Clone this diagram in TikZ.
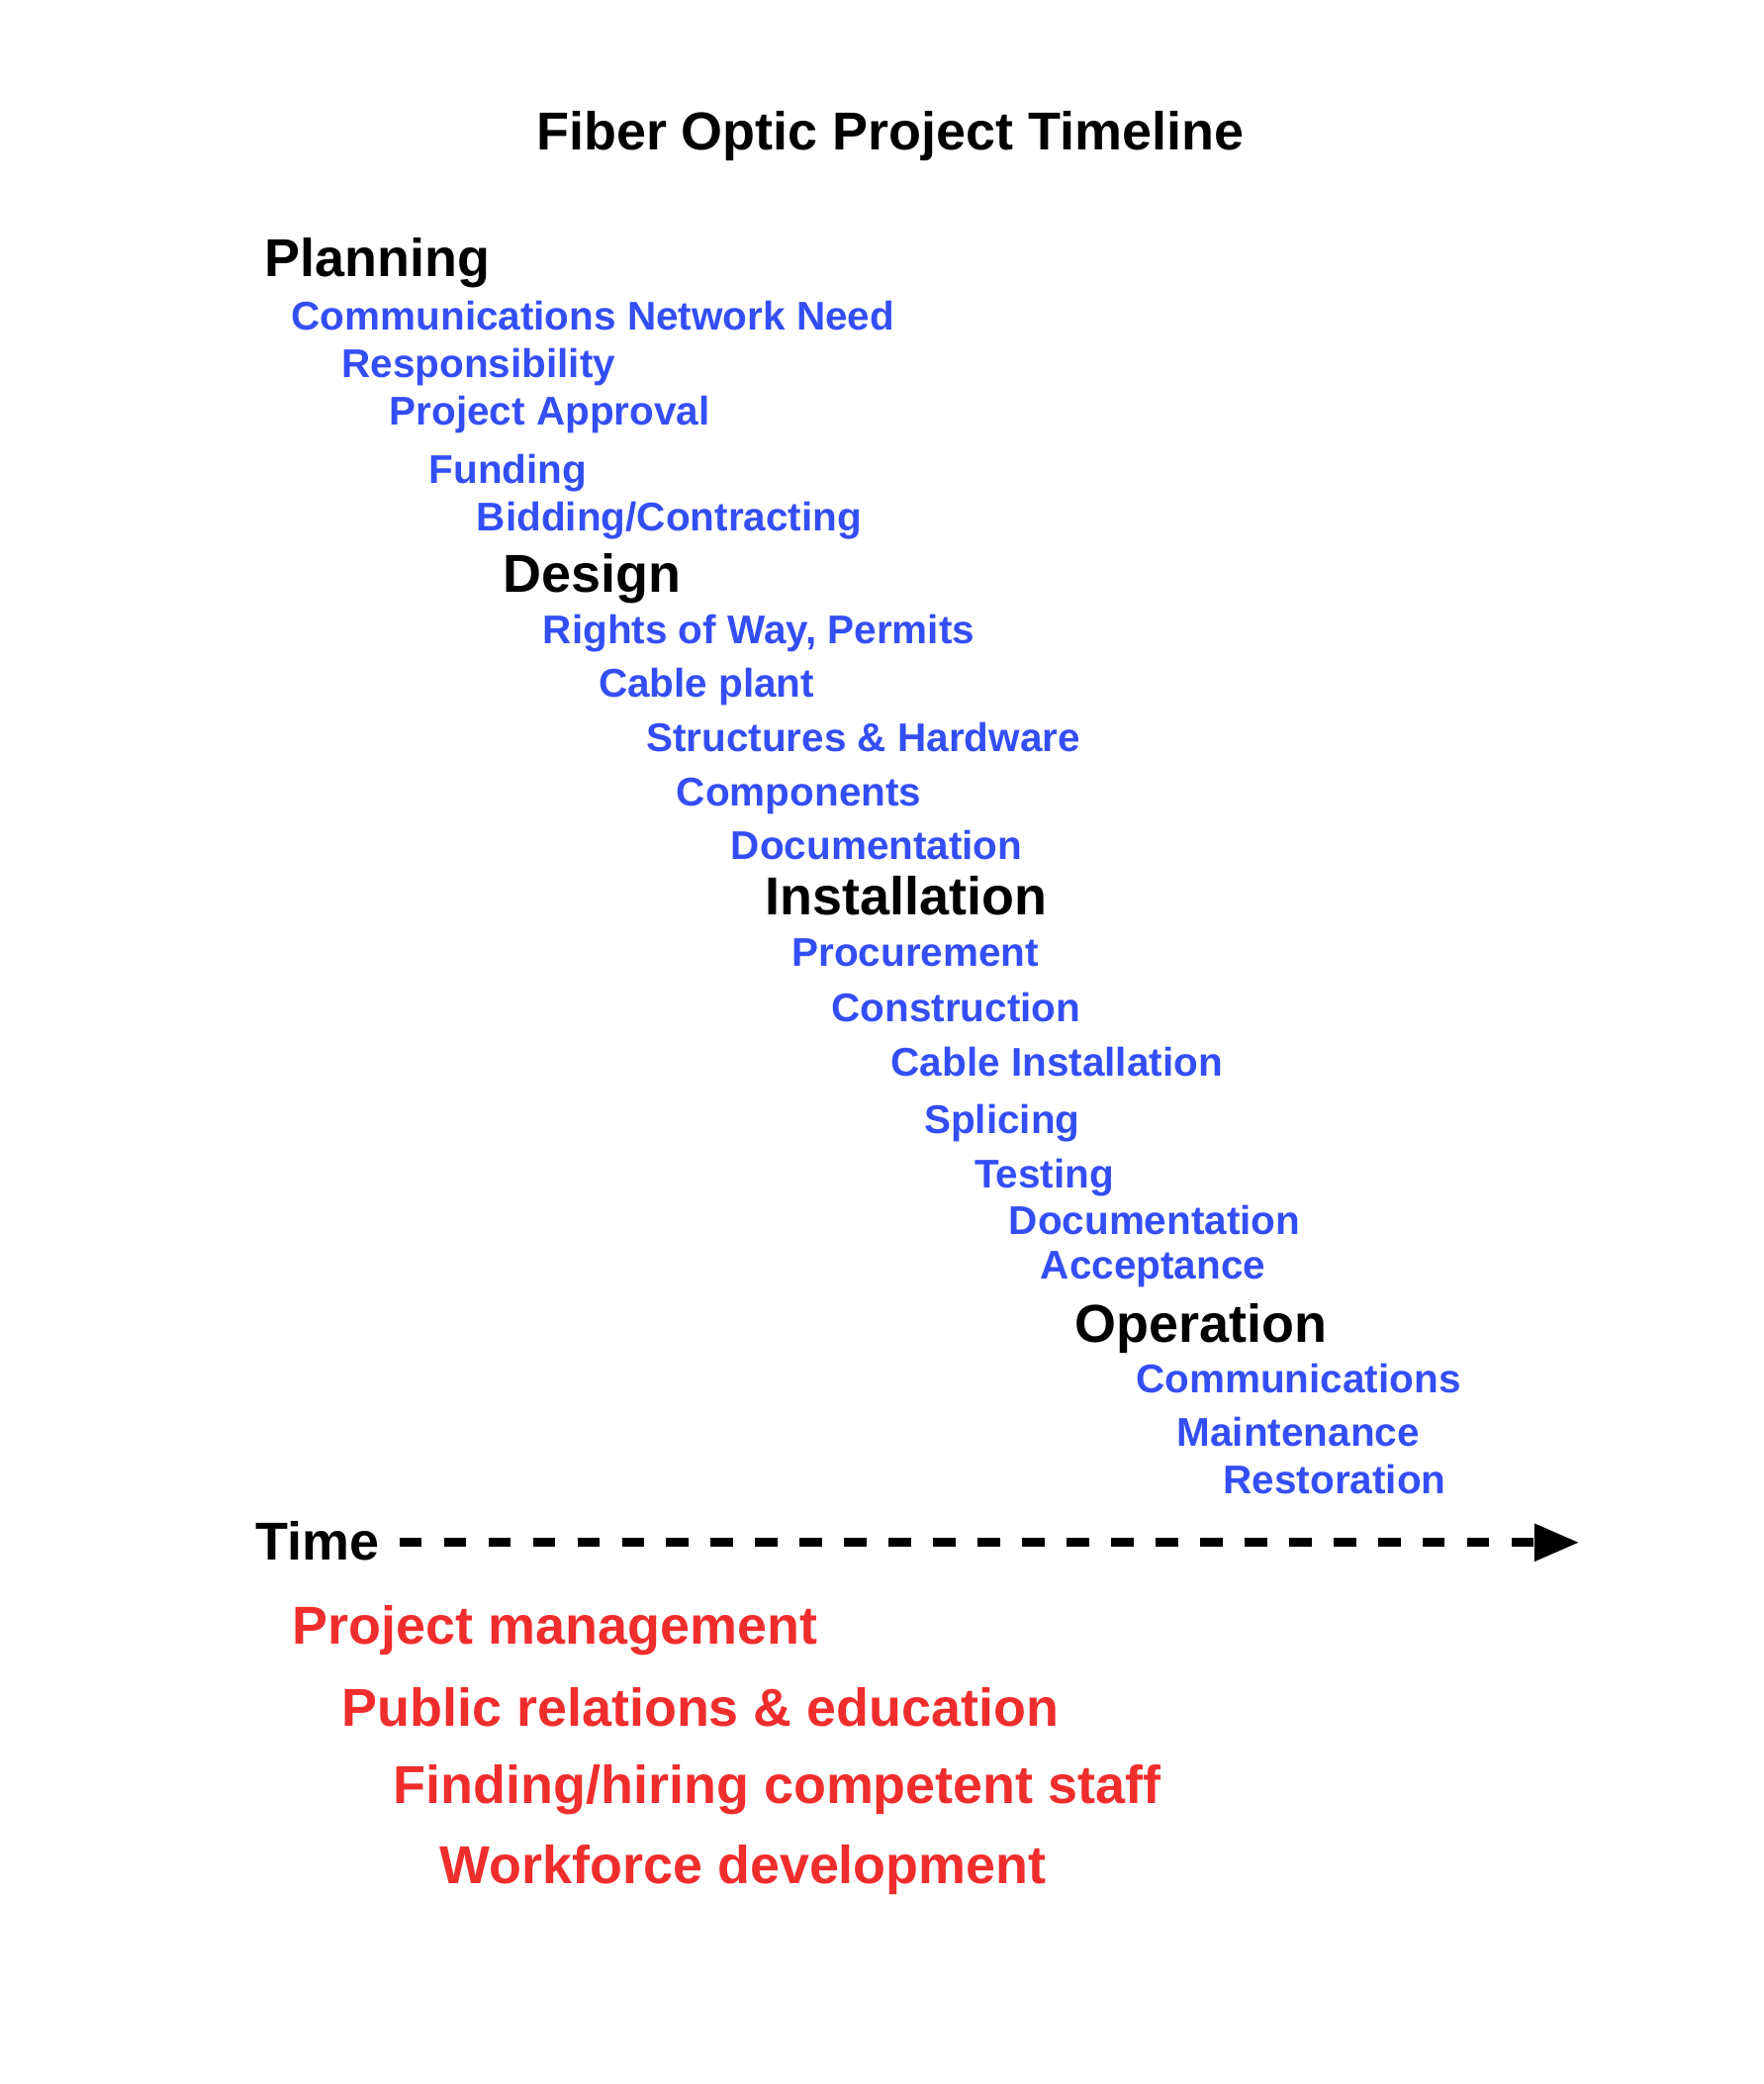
\documentclass[tikz,border=0pt]{standalone}
\usepackage{fontspec}
\setmainfont{Liberation Sans}
\usepackage{xcolor}
\usepackage{tikz}
\usetikzlibrary{positioning, arrows.meta}
\definecolor{taskblue}{RGB}{52,78,245}
\definecolor{issuered}{RGB}{240,45,45}
\newcommand{\largebf}{\fontsize{40.3bp}{48bp}\selectfont\bfseries}
\newcommand{\taskbf}{\fontsize{30.25bp}{36bp}\selectfont\bfseries}

\begin{document}
\begin{tikzpicture}[x=1bp, y=-1bp, every node/.style={inner sep=0pt, anchor=base west},
  heading/.style={font=\largebf, text=black},
  phase/.style={font=\largebf, text=black},
  task/.style={font=\taskbf, text=taskblue},
  issue/.style={font=\largebf, text=issuered},
  timeline/.style={line width=6.7bp, dash pattern=on 17bp off 16.6bp, -{Triangle[length=34bp,width=27bp]}}]
\useasboundingbox (0,0) rectangle (1332,1574);
\node [heading] (title) at (405,113) {Fiber Optic Project Timeline};
% planning
\node [phase] (plan) at (200,209) {Planning};
\node [task] (need) at (220,249) {Communications Network Need};
\node [task] (resp) at (258,285) {Responsibility};
\node [task] (approval) at (294,321) {Project Approval};
\node [task] (funding) at (324,365) {Funding};
\node [task] (bidding) at (360,401) {Bidding/Contracting};
% design
\node [phase] (design) at (380,447) {Design};
\node [task] (row) at (410,486) {Rights of Way, Permits};
\node [task] (plant) at (452,526.5) {Cable plant};
\node [task] (hardware) at (488,567.5) {Structures \& Hardware};
\node [task] (components) at (511,608.5) {Components};
\node [task] (designdoc) at (552,649) {Documentation};
% installation
\node [phase] (install) at (578,691) {Installation};
\node [task] (procure) at (598,730) {Procurement};
\node [task] (construct) at (628,772) {Construction};
\node [task] (cableinst) at (673,813) {Cable Installation};
\node [task] (splice) at (698,856) {Splicing};
\node [task] (testing) at (736,897) {Testing};
\node [task] (installdoc) at (762,932) {Documentation};
\node [task] (accept) at (786,966) {Acceptance};
% operation
\node [phase] (operation) at (812,1014) {Operation};
\node [task] (comms) at (858,1052) {Communications};
\node [task] (maint) at (889,1092) {Maintenance};
\node [task] (restore) at (924,1128) {Restoration};
% time axis
\node [phase] (time) at (193,1178) {Time};
\coordinate (tend) at (1193,1165);
\draw [timeline] ([xshift=15bp]time.base east |- tend) -- (tend);
% ongoing concerns
\node [issue] (pm) at (221,1242) {Project management};
\node [issue] (pr) at (258,1304) {Public relations \& education};
\node [issue] (staff) at (297,1362) {Finding/hiring competent staff};
\node [issue] (workforce) at (332,1423) {Workforce development};
\end{tikzpicture}
\end{document}
